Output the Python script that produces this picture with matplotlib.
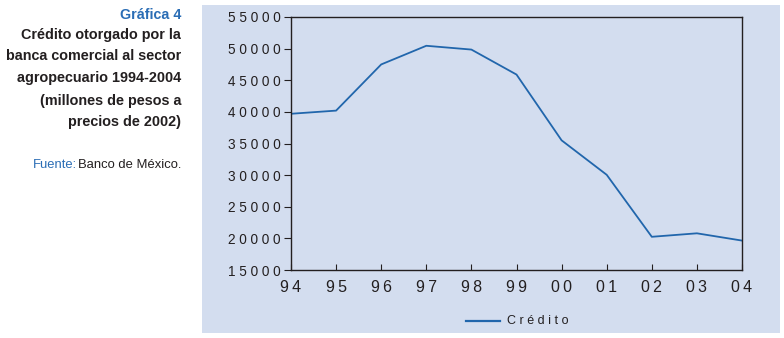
import matplotlib
matplotlib.use("Agg")
import matplotlib.pyplot as plt
from matplotlib.patches import Rectangle
from matplotlib.lines import Line2D

years = ["94", "95", "96", "97", "98", "99", "00", "01", "02", "03", "04"]
credito = [39700, 40200, 47500, 50450, 49850, 45900, 35500, 30050, 20250, 20800, 19650]
y_ticks = [15000, 20000, 25000, 30000, 35000, 40000, 45000, 50000, 55000]
series_name = "Crédito"

W, H = 784, 338
fig = plt.figure(figsize=(W / 100, H / 100), dpi=100)
fig.patch.set_facecolor("white")
plt.rcParams["font.family"] = ["Liberation Sans", "DejaVu Sans"]

panel_color = "#d3ddef"
line_color = "#2166ac"
dark = "#231f20"
blue_txt = "#2a6db5"

def fx(px):
    return px / W

def fy(py):
    return 1 - py / H

# background panel
fig.patches.append(Rectangle((fx(202), fy(333)), fx(780) - fx(202), fy(5) - fy(333),
                             transform=fig.transFigure, facecolor=panel_color,
                             edgecolor="none", zorder=-5))

ax = fig.add_axes([fx(291), fy(270), fx(742) - fx(291), fy(17) - fy(270)])
ax.set_zorder(2)
ax.set_facecolor(panel_color)
x = list(range(len(years)))
ax.plot(x, credito, color=line_color, lw=1.3)
ax.set_xlim(0, len(years) - 1)
ax.set_ylim(15000, 55000)

def spaced(s, sep=" "):
    return sep.join(s)

ax.set_yticks(y_ticks)
ax.set_yticklabels([spaced(str(v)) for v in y_ticks], fontsize=9.8, color=dark)
ax.set_xticks(x)
ax.set_xticklabels([spaced(s, "\u2009") for s in years], fontsize=11.5, color=dark)
ax.tick_params(axis="y", direction="out", length=5, width=0.8, pad=2.5, colors=dark)
ax.tick_params(axis="x", direction="in", length=4, width=0.8, pad=7, colors=dark)
for s in ax.spines.values():
    s.set_color(dark)
    s.set_linewidth(1.0)

# legend
fig.lines.append(Line2D([fx(466), fx(500)], [fy(320.5), fy(320.5)], transform=fig.transFigure,
                        color=line_color, lw=1.6, zorder=3))
fig.text(fx(507), fy(321), spaced(series_name), fontsize=9, color=dark,
         ha="left", va="center", zorder=3)

# left text
rx = fx(181)
fig.text(rx, fy(15), "Gráfica 4", fontsize=10.3, color=blue_txt, fontweight="bold",
         ha="right", va="center")
lines = ["Crédito otorgado por la", "banca comercial al sector",
         "agropecuario 1994-2004", "(millones de pesos a", "precios de 2002)"]
ys = [35, 56, 78, 101, 122]
for t, yy in zip(lines, ys):
    fig.text(rx, fy(yy), t, fontsize=10.35, color=dark, fontweight="bold",
             ha="right", va="center")
t2 = fig.text(rx, fy(165), "Banco de México.", fontsize=9.4, color=dark, ha="right", va="center")
fig.canvas.draw()
bb = t2.get_window_extent()
fig.text(bb.x0 / W - 0.001, fy(165), "Fuente:", fontsize=9.4, color=blue_txt,
         ha="right", va="center")

fig.savefig("out.png", dpi=100, facecolor="white")
